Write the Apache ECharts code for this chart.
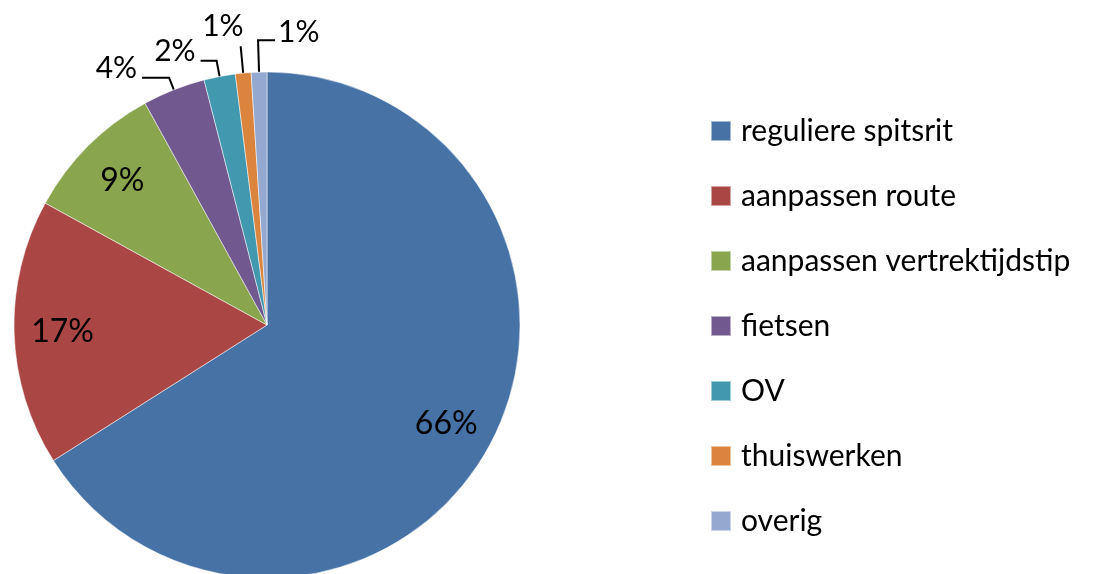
<!DOCTYPE html>
<html>
<head>
<meta charset="utf-8">
<script src="https://cdn.jsdelivr.net/npm/echarts@6/dist/echarts.min.js"></script>
<style>
  html, body { margin: 0; padding: 0; background: #fff; }
  #chart { width: 1110px; height: 574px; }
</style>
</head>
<body>
<div id="chart"></div>
<script>
var categories = ['reguliere spitsrit', 'aanpassen route', 'aanpassen vertrektijdstip', 'fietsen', 'OV', 'thuiswerken', 'overig'];
var values = [66, 17, 9, 4, 2, 1, 1];
var colors = ['#4672A6', '#AA4643', '#89A54E', '#71588F', '#4198AF', '#DB843D', '#93A9CF'];
// lengte van de lijntjes bij de kleine stukken [length, length2]
var lineLens = [null, null, null, [13, 27], [16, 16], [27, 0], [32, 17]];

var myChart = echarts.init(document.getElementById('chart'));
var fontName = 'Lato';

var pieData = [];
var ringData = [];
for (var i = 0; i < values.length; i++) {
    var inside = lineLens[i] == null;
    var item = {
        name: categories[i],
        value: values[i],
        itemStyle: {color: colors[i]},
        label: {show: !inside}
    };
    if (!inside) {
        item.labelLine = {show: true, length: lineLens[i][0], length2: lineLens[i][1]};
    }
    pieData.push(item);
    ringData.push({
        name: categories[i],
        value: values[i],
        label: {show: inside}
    });
}

// plaats de buitenste labels zoals in excel
function placeLabel(params) {
    var pts = params.labelLinePoints;
    if (!pts || pts.length < 3) return {};
    var p1 = pts[1], p2 = pts[2];
    var idx = params.dataIndex;
    if (idx === values.length - 1) {
        // laatste label staat rechts van de lijn
        var np2 = [p1[0] + (p1[0] - p2[0]), p1[1]];
        return {
            x: np2[0] + 3,
            y: np2[1] - 8,
            align: 'left',
            verticalAlign: 'middle',
            labelLinePoints: [pts[0], p1, np2]
        };
    }
    if (lineLens[idx] && lineLens[idx][1] === 0) {
        // label boven het lijntje
        return {x: p2[0] + 3, y: p2[1] - 5, align: 'right', verticalAlign: 'bottom', labelLinePoints: pts};
    }
    return {y: p2[1] + 6, verticalAlign: 'bottom', labelLinePoints: pts};
}

var option = {
    backgroundColor: '#fff',
    animation: false,
    color: colors,
    legend: {
        orient: 'vertical',
        left: 705,
        top: 111,
        data: categories,
        icon: 'rect',
        itemWidth: 20,
        itemHeight: 20,
        itemGap: 35,
        selectedMode: false,
        textStyle: {
            fontFamily: fontName,
            fontSize: 30,
            lineHeight: 30,
            color: '#000',
            padding: [0, 0, 0, 5]
        }
    },
    series: [
        {
            name: 'verdeling',
            type: 'pie',
            center: [267, 325],
            radius: 253,
            startAngle: 90,
            clockwise: true,
            avoidLabelOverlap: false,
            data: pieData,
            itemStyle: {borderColor: 'rgba(255,255,255,0.5)', borderWidth: 1},
            label: {
                position: 'outside',
                fontFamily: fontName,
                fontSize: 30,
                color: '#000',
                distanceToLabelLine: 5,
                formatter: function (p) { return Math.round(p.percent) + '%'; }
            },
            labelLine: {lineStyle: {color: '#000', width: 2}},
            labelLayout: placeLabel,
            emphasis: {disabled: true}
        },
        {
            name: 'labels',
            type: 'pie',
            center: [267, 325],
            radius: [150, 253],
            startAngle: 90,
            clockwise: true,
            silent: true,
            data: ringData,
            itemStyle: {color: 'rgba(0,0,0,0)'},
            label: {
                position: 'inside',
                fontFamily: fontName,
                fontSize: 32,
                color: '#000',
                formatter: function (p) { return Math.round(p.percent) + '%'; }
            },
            labelLine: {show: false},
            emphasis: {disabled: true}
        }
    ]
};
myChart.setOption(option);
</script>
</body>
</html>
